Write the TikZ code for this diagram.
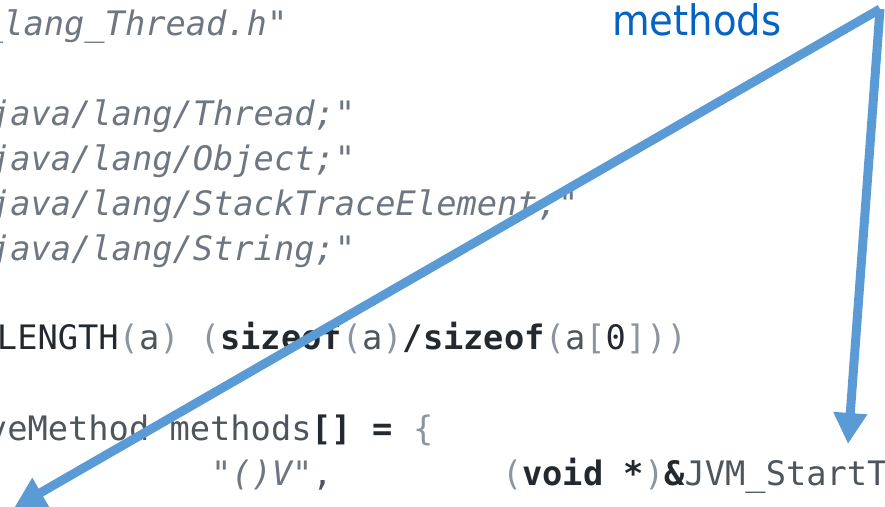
\documentclass[tikz,border=0pt]{standalone}
\usepackage{fontspec}
\setmonofont{DejaVu Sans Mono}
\newfontfamily\lblfont{DejaVu Sans}[FakeStretch=0.92]
\usetikzlibrary{arrows.meta}

\definecolor{strgray}{HTML}{6E7781}
\definecolor{ident}{HTML}{4E555D}
\definecolor{kw}{HTML}{24292F}
\definecolor{punct}{HTML}{8C959F}
\definecolor{arrowblue}{HTML}{5B9BD5}
\definecolor{lblblue}{HTML}{0563C1}

% colour helpers for the code listing
\newcommand\dq{\symbol{34}}
\newcommand\str[1]{\textcolor{strgray}{\itshape #1}}
\newcommand\idt[1]{\textcolor{ident}{#1}}
\newcommand\kwd[1]{\textcolor{kw}{\bfseries #1}}
\newcommand\pun[1]{\textcolor{punct}{#1}}

\tikzset{
  codeline/.style={anchor=base west, inner sep=0pt, outer sep=0pt,
    font=\ttfamily\fontsize{33.7}{40}\selectfont},
  label/.style={anchor=base west, inner sep=0pt, text=lblblue,
    font=\lblfont\fontsize{42}{48}\selectfont},
  pointer/.style={draw=arrowblue, line width=9pt, line join=miter,
    arrows={-{Triangle[length=31pt,width=32pt]}}},
}

\begin{document}
\begin{tikzpicture}[x=1pt,y=-1pt]
  \useasboundingbox (0,0) rectangle (885,506);
  \clip (0,0) rectangle (885,506);
  \fill[white] (0,0) rectangle (885,506);

  % code listing
  \node[codeline] (inc)  at (-17,35)  {\str{\_lang\_Thread.h\dq}};
  \node[codeline] (sig1) at (-10,125) {\str{java/lang/Thread;\dq}};
  \node[codeline] (sig2) at (-10,170) {\str{java/lang/Object;\dq}};
  \node[codeline] (sig3) at (-10,215) {\str{java/lang/StackTraceElement;\dq}};
  \node[codeline] (sig4) at (-10,260) {\str{java/lang/String;\dq}};
  \node[codeline] (len)  at (-3,349)
    {\textcolor{kw}{LENGTH}\pun{(}\idt{a}\pun{)} \pun{(}\kwd{sizeof}\pun{(}\idt{a}\pun{)}\kwd{/}\kwd{sizeof}\pun{(}\idt{a}\pun{[}\textcolor{kw}{0}\pun{]))}};
  \node[codeline] (arr)  at (-13,440)
    {\idt{veMethod methods}\kwd{[] =} \pun{\{}};
  \node[codeline] (sigv) at (211,485) {\str{\dq()V\dq}\idt{,}};
  \node[codeline] (fn)   at (502,485)
    {\pun{(}\kwd{void *}\pun{)}\kwd{\&}\idt{JVM\_StartT}};

  % callout
  \node[label] (lbl) at (612,35) {methods};
  \coordinate (apex) at (880,9);
  \coordinate (tipA) at (14,508);
  \coordinate (tipB) at (848,444);
  \draw[pointer] (apex) -- (tipA);
  \draw[pointer] (apex) -- (tipB);
\end{tikzpicture}
\end{document}
